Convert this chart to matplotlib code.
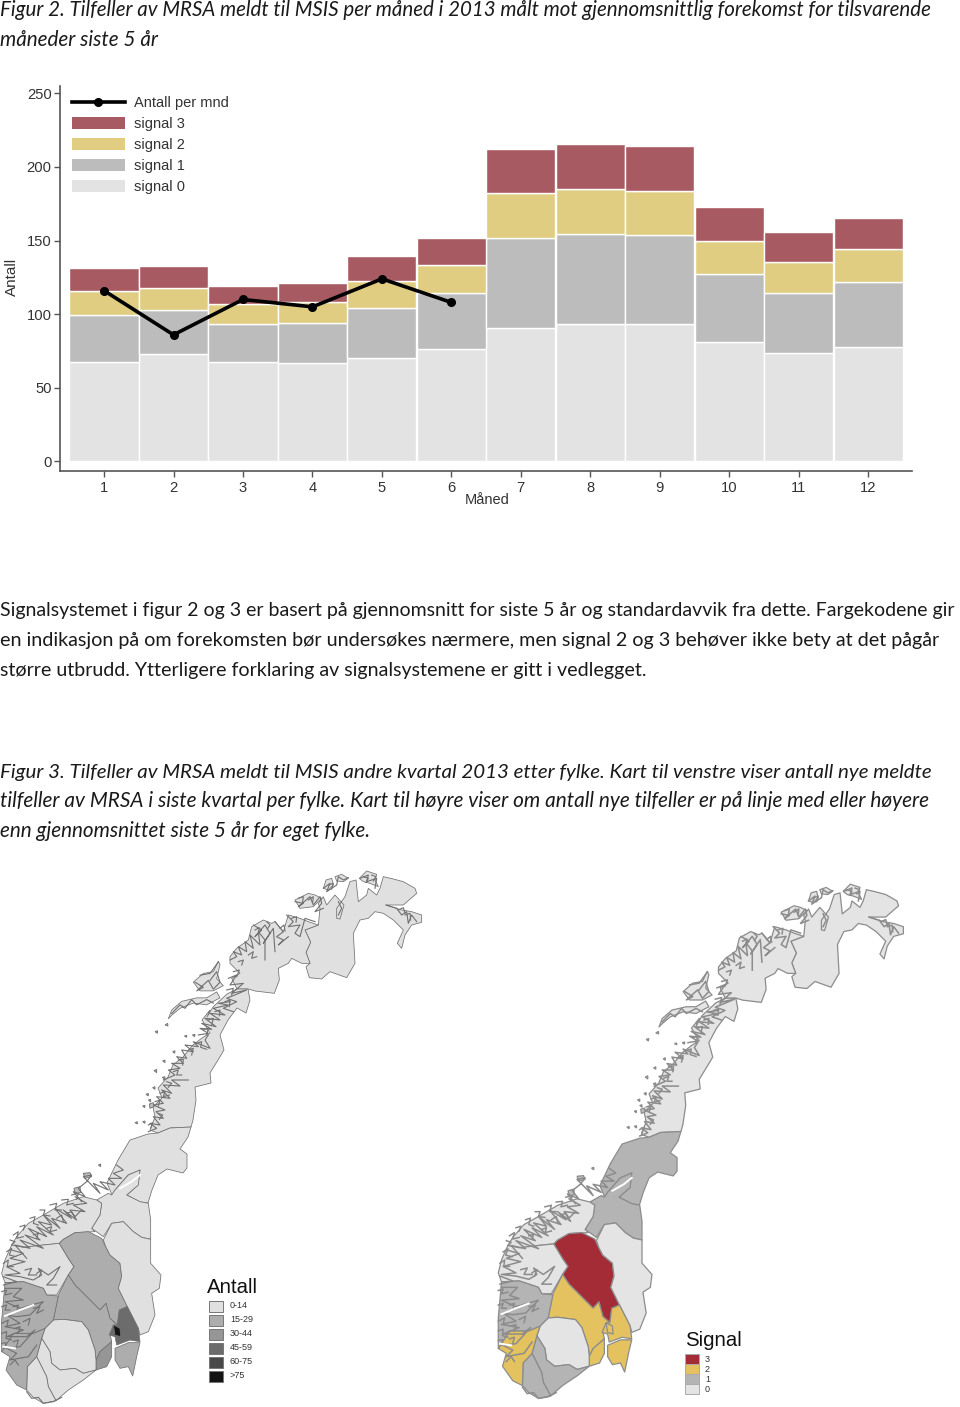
import matplotlib
matplotlib.use("Agg")
import matplotlib.pyplot as plt
from matplotlib.patches import Polygon, Patch
from matplotlib.lines import Line2D

W, H = 960, 1407
# ---------- chart data ----------
months = list(range(1, 13))
signal0 = [67.6, 73, 67.6, 67, 70, 76.4, 90.7, 93.4, 93.4, 81.2, 73.7, 77.8]
signal1 = [31.9, 30, 25.8, 27, 34, 38.1, 61.1, 61.1, 60.5, 46.2, 40.8, 44.2]
signal2 = [16.3, 15, 13.6, 14, 18.6, 19, 30.6, 30.5, 29.9, 22.4, 21, 22.4]
signal3 = [15.7, 15, 12.2, 13, 17, 18.3, 29.9, 30.7, 30.5, 23.1, 20.4, 21]
count_months = [1, 2, 3, 4, 5, 6]
count_values = [116, 86, 110, 105, 124, 108]
y_ticks = [0, 50, 100, 150, 200, 250]
series_colors = {"signal 0": "#e3e3e3", "signal 1": "#bcbcbc", "signal 2": "#e0cd82", "signal 3": "#a85a62"}

title_lines = [
    ("Figur 2. Tilfeller av MRSA meldt til MSIS per måned i 2013 målt mot gjennomsnittlig forekomst for tilsvarende", 16, True, 14.81),
    ("måneder siste 5 år", 46, True, 14.83),
    ("Signalsystemet i figur 2 og 3 er basert på gjennomsnitt for siste 5 år og standardavvik fra dette. Fargekodene gir", 616, False, 14.04),
    ("en indikasjon på om forekomsten bør undersøkes nærmere, men signal 2 og 3 behøver ikke bety at det pågår", 646, False, 14.2),
    ("større utbrudd. Ytterligere forklaring av signalsystemene er gitt i vedlegget.", 676, False, 14.17),
    ("Figur 3. Tilfeller av MRSA meldt til MSIS andre kvartal 2013 etter fylke. Kart til venstre viser antall nye meldte", 778, True, 14.74),
    ("tilfeller av MRSA i siste kvartal per fylke. Kart til høyre viser om antall nye tilfeller er på linje med eller høyere", 807, True, 14.95),
    ("enn gjennomsnittet siste 5 år for eget fylke.", 837, True, 14.88),
]

# ---------- map data: outlines, in reading frames ----------
def north(pts):
    return [(220 + x / 3, 865 + y / 3) for x, y in pts]
def middle(pts):
    return [(130 + x / 3, 1000 + y / 3) for x, y in pts]
def south(pts):
    return [(x / 3, 1160 + y / 3) for x, y in pts]
def whole(pts):
    return [(x / 3, 860 + 0.349 * y) for x, y in pts]

finnmark = north([(295,180),(255,195),(272,232),(258,262),(270,295),(258,305),(268,338),(305,342),(330,320),(380,338),(405,295),(400,205),(420,165),(445,160),(465,140),(490,145),(520,165),(550,195),(532,235),(545,250),(555,210),(575,180),(605,172),(605,150),(575,140),(545,135),(498,120),(550,120),(590,85),(585,70),(550,50),(520,42),(490,35),(480,70),(470,90),(445,70),(440,90),(415,110),(408,45),(390,50),(375,95),(350,130),(350,160),(360,162),(372,120),(345,90),(320,120),(310,95),(295,115),(300,130)])
troms = north([(295,180),(255,195),(272,232),(258,262),(270,295),(245,295),(215,280),(205,295),(175,310),(178,345),(163,385),(105,378),(85,372),(51,372),(35,340),(60,325),(30,295),(30,275),(50,250),(85,225),(95,185),(130,165),(155,175),(165,170),(190,200),(205,150),(240,160),(265,170)])
nordland = [(248,989),(250,1000),(246,1013),(237,1008),(228,1020),(220,1035),(224,1050),(218,1060),(210,1073),(211,1083),(195,1087),(196,1100),(193,1120),(191,1127),(170,1128),(158,1133),(150,1130),(155,1117),(153,1107),(162,1098),(158,1088),(168,1077),(173,1065),(183,1057),(193,1045),(202,1038),(210,1033),(202,1020),(210,1010),(207,1017),(213,1007),(227,994),(237,989)]
lofoten = whole([(505,455),(515,430),(545,405),(590,395),(620,395),(650,378),(660,395),(620,415),(580,410),(540,425),(515,445)])
vesteralen = whole([(580,350),(610,325),(640,320),(655,290),(660,300),(650,340),(670,360),(640,375),(600,375)])
sorland_isl = north([(225,105),(265,85),(285,90),(305,100),(280,125),(240,130)])
mager_isl = north([(345,35),(365,28),(385,40),(370,50),(350,48)])
soroya_isl = north([(318,45),(335,40),(340,60),(325,75),(310,70)])
nordkyn_isl = north([(418,40),(440,18),(470,28),(465,45),(475,65),(450,55),(430,50)])
nord_trondelag = [(158,1133),(170,1128),(191,1127),(188,1137),(180,1149),(187,1154),(187,1168),(183,1173),(167,1169),(158,1175),(152,1190),(148,1203),(140,1202),(127,1195),(138,1185),(140,1170),(128,1175),(115,1190),(112,1195),(107,1183),(118,1160),(130,1140),(148,1134)]
sor_trondelag = south([(445,130),(452,180),(452,238),(425,232),(400,215),(370,185),(335,190),(310,230),(275,205),(300,165),(305,130),(290,120),(325,100),(335,105),(345,90),(385,45),(420,30),(415,75),(380,105),(420,125)])
more = south([(305,130),(300,165),(275,205),(285,215),(225,218),(190,238),(178,250),(130,255),(70,262),(35,255),(50,230),(85,190),(130,165),(190,130),(250,110),(290,120)])
sogn = south([(178,250),(205,295),(222,320),(205,345),(170,405),(140,405),(130,385),(70,365),(15,368),(5,340),(15,300),(35,255),(70,262),(130,255)])
oppland = south([(178,250),(190,238),(225,218),(265,215),(305,235),(318,262),(330,285),(360,310),(365,350),(355,385),(382,440),(358,450),(352,495),(330,475),(318,430),(300,450),(270,420),(225,375),(205,345),(222,320),(205,295)])
hedmark = south([(310,240),(335,190),(370,185),(400,215),(425,232),(452,238),(452,310),(483,345),(478,385),(455,400),(465,465),(445,515),(420,525),(415,505),(382,440),(355,385),(365,350),(360,310),(330,285),(318,262)])
buskerud = south([(225,375),(270,420),(300,450),(318,430),(330,475),(352,495),(330,520),(335,545),(300,575),(288,600),(285,570),(265,510),(245,485),(190,478),(160,480),(175,405),(205,345)])
vestfold = south([(335,545),(335,590),(320,620),(288,630),(288,600),(300,575)])
telemark = south([(135,505),(160,480),(190,478),(245,485),(265,510),(285,570),(288,600),(288,630),(250,640),(225,625),(180,630),(155,610),(150,575),(125,535)])
aust_agder = south([(125,535),(150,575),(155,610),(180,630),(225,625),(250,640),(288,630),(250,660),(205,690),(168,722),(145,680),(140,650),(110,590)])
vest_agder = south([(110,590),(82,620),(80,690),(100,712),(130,730),(168,722),(145,680),(140,650)])
rogaland = south([(135,505),(125,535),(110,590),(82,620),(80,690),(50,675),(18,630),(30,590),(5,575),(40,520),(100,520)])
hordaland = south([(70,365),(130,385),(140,405),(175,408),(160,480),(135,505),(100,520),(40,520),(5,575),(5,480),(15,368)])
akershus = south([(358,450),(382,440),(415,505),(420,545),(390,540),(350,555),(345,530),(328,525),(340,495),(352,495)])
ostfold = south([(345,565),(385,548),(420,548),(410,590),(405,615),(398,648),(385,620),(360,625),(345,600)])
oslo = south([(340,495),(360,505),(362,530),(345,525)])

fjords = [
 north([(30,285),(50,275),(40,260),(65,270),(55,245),(80,260),(75,230),(100,250),(90,210),(120,240),(115,200),(135,225),(135,285)]),
 north([(100,180),(125,195),(105,215),(135,180),(150,205),(130,235),(160,190),(165,260)]),
 north([(165,170),(190,200),(170,215),(190,225),(175,240),(205,215)]),
 north([(200,150),(220,170),(205,185),(240,180),(225,205),(240,215),(255,160),(285,170)]),
 north([(225,110),(250,115),(235,125),(270,95),(280,120),(300,95),(305,115),(285,140),(310,130)]),
 north([(25,340),(50,330),(30,360),(70,355),(35,385),(80,375),(20,400),(50,410),(10,430),(40,440)]),
 north([(498,120),(530,130),(545,150),(560,140),(565,175),(575,150),(590,170)]),
 north([(310,70),(330,55),(320,80),(350,60),(355,35),(370,45),(385,38)]),
 north([(420,40),(445,30),(440,50),(470,40),(465,70)]),
 north([(355,110),(365,130),(355,150)]),
 north([(55,290),(70,285),(65,300)]), north([(85,270),(100,260),(95,280),(110,275)]), north([(105,195),(118,188),(115,205)]),
 north([(140,170),(150,180),(142,192)]), north([(180,190),(192,180),(195,198)]), north([(215,160),(230,155),(228,172)]),
 north([(235,100),(250,95),(248,110)]), north([(265,105),(280,95),(278,112)]), north([(535,135),(550,128),(555,145)]),
 north([(555,150),(570,145),(572,165)]), north([(430,35),(445,40),(438,52)]), north([(455,30),(468,35),(460,48)]),
 north([(325,60),(340,55),(335,72)]), north([(40,320),(58,315),(50,335)]), north([(20,375),(40,370),(35,390)]), north([(15,410),(30,405),(28,425)]),
 whole([(585,350),(610,365),(590,375),(625,345),(640,370),(660,350),(650,320),(630,345)]),
 whole([(600,330),(630,325),(655,292)]),
 whole([(515,440),(540,415),(555,425),(575,400),(590,415),(620,400),(640,410)]),
 middle([(55,395),(80,385),(60,370),(90,375),(70,350),(100,355),(78,335),(105,330),(70,315),(100,310),(80,290),(120,295),(95,270),(125,280),(100,255),(150,258),(125,240),(175,240)]),
 middle([(100,240),(135,225),(115,210),(150,205),(125,190),(160,190),(140,170),(170,175),(155,150),(190,155),(165,135),(205,140),(190,125),(240,145),(225,120),(235,105)]),
 middle([(205,105),(235,100),(210,85),(245,88),(215,70),(258,80),(225,55),(270,60),(240,40),(285,45),(250,25),(295,15),(265,10),(300,5)]),
 middle([(55,375),(68,368),(62,385)]), middle([(85,340),(98,345),(88,358)]), middle([(75,305),(90,300),(85,318)]),
 middle([(90,280),(105,275),(100,290),(118,285)]), middle([(110,245),(125,250),(115,262)]), middle([(130,215),(145,210),(140,225),(155,225)]),
 middle([(145,180),(160,178),(158,195)]), middle([(175,150),(190,145),(185,165)]), middle([(200,130),(215,125),(212,142),(230,148)]),
 middle([(220,90),(235,85),(230,105)]), middle([(235,60),(250,55),(245,75)]), middle([(255,35),(270,30),(268,48)]),
 south([(350,15),(370,30),(340,40),(365,55),(325,55),(345,75),(300,65),(325,90),(280,70),(300,100),(250,50),(275,45),(260,65),(235,85),(255,110),(220,95),(245,125)]),
 south([(225,110),(260,130),(220,135),(255,155),(210,150),(230,180),(190,150),(215,175),(165,145),(200,190),(155,175),(180,205),(130,165),(155,195),(115,185),(160,225),(110,200),(140,230),(85,205),(120,240),(75,225),(130,265),(60,240),(90,265),(45,255),(80,295)]),
 south([(35,270),(70,280),(30,295),(75,305),(20,320),(60,340),(15,345),(60,350),(100,360),(125,345),(115,325),(145,345),(180,320),(160,355),(140,375),(170,375)]),
 south([(10,350),(50,365),(10,375)]),
 south([(15,385),(65,385),(40,410),(70,420),(15,425),(60,445),(130,425),(90,465),(50,470),(20,465),(60,490),(15,500),(70,510),(20,530),(80,530),(105,510),(60,560),(20,565),(50,580),(30,600),(85,590),(110,555)]),
 south([(80,695),(95,715),(115,712),(130,730),(160,725),(185,712)]),
 south([(60,200),(75,195),(70,210)]), south([(90,175),(105,170),(100,190),(115,195)]), south([(120,150),(135,150),(130,165),(150,168)]),
 south([(150,135),(170,130),(165,150),(185,150)]), south([(185,120),(205,118),(200,135),(220,130)]), south([(215,105),(235,100),(230,118)]),
 south([(40,225),(55,215),(50,235),(70,230)]), south([(20,275),(35,265),(28,285),(48,290)]), south([(10,310),(25,300),(22,320),(40,320)]),
 south([(30,240),(45,245),(35,255)]), south([(5,395),(20,390),(15,405),(35,400)]), south([(5,440),(20,435),(15,450),(30,450)]),
 south([(5,490),(25,480),(20,500)]), south([(5,520),(20,515),(18,535),(35,540)]), south([(5,550),(18,548),(15,565)]),
 south([(110,340),(125,330),(118,350)]), south([(75,330),(95,325),(85,345),(110,345)]), south([(100,445),(120,440),(110,460),(130,450)]),
 south([(40,440),(55,435),(50,455)]), south([(70,485),(90,475),(85,495)]), south([(45,505),(60,500),(55,520)]),
 south([(40,545),(55,540),(50,560)]), south([(30,615),(45,600),(55,615)]), south([(200,160),(215,155),(225,170),(245,150)]),
 south([(170,175),(185,165),(190,185)]), south([(140,205),(155,200),(150,215),(170,210)]), south([(100,225),(115,220),(110,235)]),
]
white_gaps = [south([(15,468),(60,450),(100,435)]), south([(10,560),(45,565)]), south([(360,85),(395,65),(420,45)])]
islands = [
 middle([(105,75),(113,70),(114,78)]), middle([(75,95),(83,92),(82,100)]), middle([(163,108),(170,106),(170,112)]), middle([(187,105),(195,103),(194,110)]),
 middle([(128,155),(135,152),(134,160)]), middle([(98,183),(105,180),(105,188)]), middle([(72,212),(80,208),(80,218)]), middle([(97,232),(105,230),(104,238)]),
 middle([(68,263),(75,260),(75,268)]), middle([(48,283),(55,280),(55,288)]), middle([(55,300),(62,298),(62,306)]), middle([(38,318),(45,316),(44,323)]),
 middle([(58,312),(70,308),(72,320),(60,325)]), middle([(15,368),(22,365),(22,372)]), middle([(38,365),(45,363),(45,370)]),
 south([(295,15),(302,12),(302,20)]), south([(250,40),(270,38),(275,50),(255,55)]), south([(222,85),(240,80),(242,98),(225,100)]),
]
counties = {
 "finnmark": finnmark, "troms": troms, "nordland": nordland, "lofoten": lofoten, "vesteralen": vesteralen,
 "sorland_isl": sorland_isl, "mager_isl": mager_isl, "soroya_isl": soroya_isl, "nordkyn_isl": nordkyn_isl,
 "nord_trondelag": nord_trondelag, "sor_trondelag": sor_trondelag, "more": more, "sogn": sogn, "oppland": oppland,
 "hedmark": hedmark, "buskerud": buskerud, "vestfold": vestfold, "telemark": telemark, "aust_agder": aust_agder,
 "vest_agder": vest_agder, "rogaland": rogaland, "hordaland": hordaland, "akershus": akershus, "ostfold": ostfold, "oslo": oslo,
}
antall_labels = ["0-14", "15-29", "30-44", "45-59", "60-75", ">75"]
antall_colors = ["#e0e0e0", "#adadad", "#969696", "#6c6c6c", "#484848", "#141414"]
antall_class = {"oppland": 1, "buskerud": 1, "hordaland": 1, "rogaland": 1, "ostfold": 1, "vestfold": 2, "akershus": 3, "oslo": 5}
signal_labels = ["3", "2", "1", "0"]
signal_colors = {3: "#a32c36", 2: "#e3c25f", 1: "#b4b4b4", 0: "#e4e4e4"}
signal_class = {"oppland": 3, "buskerud": 2, "vestfold": 2, "akershus": 2, "ostfold": 2, "oslo": 2, "rogaland": 2,
                "nord_trondelag": 1, "sor_trondelag": 1, "hordaland": 1, "aust_agder": 1, "vest_agder": 1}

plt.rcParams["font.family"] = ["Liberation Sans", "DejaVu Sans"]
fig = plt.figure(figsize=(W / 100, H / 100), dpi=100, facecolor="white")

def px_axes(x0, y0, x1, y1):
    return fig.add_axes([x0 / W, 1 - y1 / H, (x1 - x0) / W, (y1 - y0) / H])

# ---------- page text ----------
page = px_axes(0, 0, W, H)
page.set_xlim(0, W); page.set_ylim(H, 0); page.axis("off")
for text, base, ital, size in title_lines:
    page.text(0, base, text, family="Lato", style="italic" if ital else "normal", fontsize=size,
              color="#1a1a1a", va="baseline", ha="left")

# ---------- bar chart ----------
ax = px_axes(60, 86, 912, 471)
ax.set_xlim(0.366, 12.63); ax.set_ylim(-6.5, 255)
ax.patch.set_alpha(0)
bottom = [0] * 12
for name, vals in zip(["signal 0", "signal 1", "signal 2", "signal 3"], [signal0, signal1, signal2, signal3]):
    ax.bar(months, vals, bottom=bottom, width=0.995, color=series_colors[name], edgecolor="white", linewidth=1.0, label=name)
    bottom = [b + v for b, v in zip(bottom, vals)]
ax.plot(count_months, count_values, color="black", lw=2.6, marker="o", ms=5.5, solid_joinstyle="miter")
for s in ("top", "right"):
    ax.spines[s].set_visible(False)
for s in ("left", "bottom"):
    ax.spines[s].set_color("#555555"); ax.spines[s].set_linewidth(1.2)
ax.set_xticks(months); ax.set_yticks(y_ticks)
ax.tick_params(colors="#333333", labelsize=10.6, length=4, width=1, color="#555555")
ax.tick_params(axis="x", pad=3.5)
ax.tick_params(axis="y", pad=2)
page.text(487, 500, "Måned", fontsize=10.5, color="#333333", ha="center", va="center")
page.text(12, 277, "Antall", fontsize=11, color="#333333", ha="center", va="center", rotation=90)
handles = [Line2D([], [], color="black", lw=2.6, marker="o", ms=5.5)] + [
    Patch(facecolor=series_colors[n], edgecolor="none") for n in ["signal 3", "signal 2", "signal 1", "signal 0"]]
ax.legend(handles, ["Antall per mnd", "signal 3", "signal 2", "signal 1", "signal 0"], loc="upper left",
          bbox_to_anchor=(12 / 852, 1 - 10 / 385), frameon=False, fontsize=10.5, labelcolor="#333333", borderpad=0,
          borderaxespad=0, handlelength=3.6, handleheight=0.9, handletextpad=0.62, labelspacing=0.47)

# ---------- maps ----------
def draw_map(axm, colors, edge, lw, border_lw):
    axm.axis("off")
    for name, pts in counties.items():
        axm.add_patch(Polygon(pts, closed=True, facecolor=colors(name), edgecolor=edge, linewidth=border_lw, joinstyle="round"))
    for line in fjords:
        axm.plot(*zip(*line), color=edge, lw=lw, solid_joinstyle="round")
    for line in white_gaps:
        axm.plot(*zip(*line), color="white", lw=1.4)
    for isl in islands:
        axm.add_patch(Polygon(isl, closed=True, facecolor="#bdbdbd", edgecolor=edge, linewidth=lw * 0.8))

left = px_axes(0, 860, 440, H)
left.set_xlim(0, 440); left.set_ylim(H, 860)
draw_map(left, lambda n: antall_colors[antall_class.get(n, 0)], "#707070", 0.8, 0.55)

right = px_axes(480, 870, 920, H)
right.set_xlim(-17.3, 438.9); right.set_ylim(1412.2, 856.3)
draw_map(right, lambda n: signal_colors[signal_class.get(n, 0)], "#8c8c8c", 1.1, 0.9)

# ---------- map legends ----------
page.text(207, 1293, "Antall", fontsize=14.7, color="#111111", ha="left", va="baseline")
for i, (lab, col) in enumerate(zip(antall_labels, antall_colors)):
    yc = 1306 + i * 14
    page.add_patch(plt.Rectangle((209, yc - 5.5), 14, 11, facecolor=col, edgecolor="#777777", lw=0.7))
    page.text(230, yc, lab, fontsize=6.5, color="#333333", ha="left", va="center")
page.text(685, 1346, "Signal", fontsize=14.7, color="#111111", ha="left", va="baseline")
for i, lab in enumerate(signal_labels):
    yc = 1359 + i * 10
    page.add_patch(plt.Rectangle((685, yc - 5), 14, 10, facecolor=signal_colors[int(lab)], edgecolor="#aaaaaa", lw=0.7))
    page.text(705, yc, lab, fontsize=6.5, color="#333333", ha="left", va="center")

fig.savefig("out.png", dpi=100, facecolor="white")
